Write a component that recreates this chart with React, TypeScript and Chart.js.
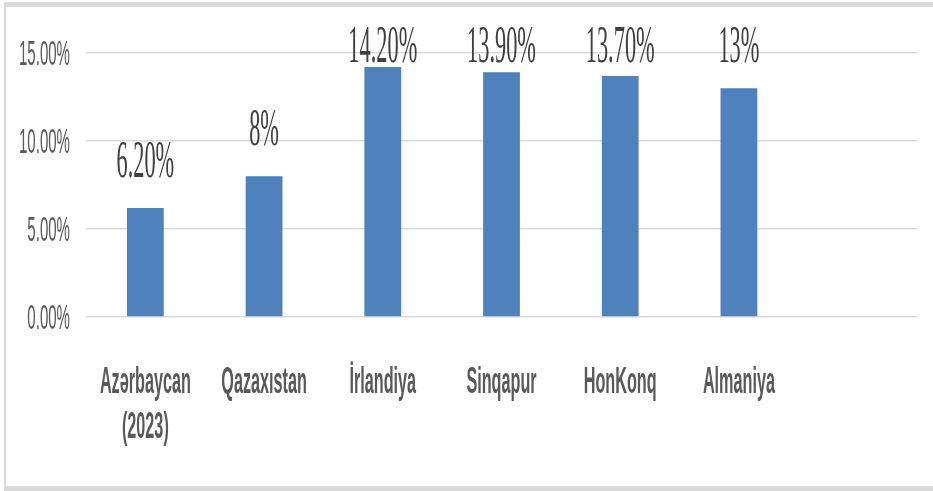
import { useEffect, useRef } from 'react';
import { Chart, registerables } from 'chart.js';

Chart.register(...registerables);

const categories: string[][] = [
  ['Azərbaycan', '(2023)'],
  ['Qazaxıstan'],
  ['İrlandiya'],
  ['Sinqapur'],
  ['HonKonq'],
  ['Almaniya'],
  [''],
];
const values: (number | null)[] = [6.2, 8, 14.2, 13.9, 13.7, 13, null];
const valueLabels: string[] = ['6.20%', '8%', '14.20%', '13.90%', '13.70%', '13%', ''];
const yTicks: number[] = [0, 5, 10, 15];
const yTickLabels: string[] = ['0.00%', '5.00%', '10.00%', '15.00%'];

function drawScaled(ctx: CanvasRenderingContext2D, text: string, x: number, y: number, sx: number) {
  ctx.save();
  ctx.translate(x, y);
  ctx.scale(sx, 1);
  ctx.fillText(text, 0, 0);
  ctx.restore();
}

const framePlugin = {
  id: 'frame',
  beforeDraw(chart: any) {
    const ctx: CanvasRenderingContext2D = chart.ctx;
    ctx.save();
    ctx.fillStyle = '#d9d9d9';
    ctx.fillRect(4, 2, chart.width, 5);
    ctx.fillRect(4, 2, 2, chart.height);
    ctx.fillRect(4, chart.height - 5, chart.width, 5);
    ctx.restore();
  },
};

const textPlugin = {
  id: 'texts',
  afterDraw(chart: any) {
    const ctx: CanvasRenderingContext2D = chart.ctx;
    const xs = chart.scales.x;
    const ys = chart.scales.y;
    const area = chart.chartArea;
    ctx.save();
    // y tick labels
    ctx.font = '35px "Liberation Sans", Arial, sans-serif';
    ctx.fillStyle = '#595959';
    ctx.textAlign = 'right';
    ctx.textBaseline = 'alphabetic';
    yTicks.forEach((t, i) => {
      drawScaled(ctx, yTickLabels[i], area.left - 16, ys.getPixelForValue(t) + 12, 0.43);
    });
    // x category labels
    ctx.font = 'bold 36px "Liberation Sans", Arial, sans-serif';
    ctx.textAlign = 'center';
    categories.forEach((lines, i) => {
      const px = xs.getPixelForValue(i);
      lines.forEach((ln, j) => {
        drawScaled(ctx, ln, px, area.bottom + 76 + j * 45, 0.45);
      });
    });
    // value labels
    ctx.font = '52px "Liberation Serif", "DejaVu Serif", "Times New Roman", serif';
    ctx.fillStyle = '#404040';
    values.forEach((v, i) => {
      if (v === null) return;
      const px = xs.getPixelForValue(i);
      const top = ys.getPixelForValue(v);
      const base = Math.max(top - 31, area.top + 9);
      drawScaled(ctx, valueLabels[i], px, base, 0.43);
    });
    ctx.restore();
  },
};

export default function App() {
  const ref = useRef<HTMLCanvasElement>(null);
  useEffect(() => {
    document.body.style.margin = '0';
    const chart = new Chart(ref.current!, {
      type: 'bar',
      data: {
        labels: categories.map((c) => c.join(' ')),
        datasets: [
          {
            data: values,
            backgroundColor: '#4f81bd',
            borderWidth: 0,
            categoryPercentage: 1,
            barPercentage: 0.31,
          },
        ],
      },
      options: {
        animation: false,
        responsive: true,
        maintainAspectRatio: false,
        layout: { padding: { left: 86, right: 16, top: 53, bottom: 174 } },
        plugins: { legend: { display: false }, tooltip: { enabled: false } },
        scales: {
          x: {
            grid: { display: false, drawTicks: false },
            border: { display: false },
            ticks: { display: false },
          },
          y: {
            min: 0,
            max: 15,
            ticks: { display: false, stepSize: 5 },
            grid: { color: '#d9d9d9', lineWidth: 1.5, drawTicks: false },
            border: { display: false },
          },
        },
      },
      plugins: [framePlugin, textPlugin],
    });
    return () => chart.destroy();
  }, []);
  return (
    <div style={{ width: 933, height: 491, position: 'relative' }}>
      <canvas ref={ref} />
    </div>
  );
}
